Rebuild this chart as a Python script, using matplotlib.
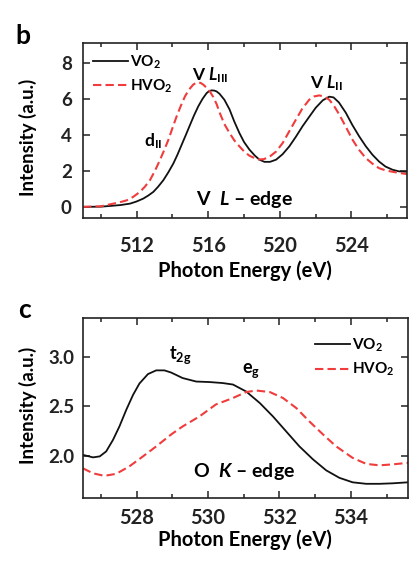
import matplotlib
matplotlib.use("Agg")
import matplotlib.pyplot as plt
from matplotlib.ticker import MultipleLocator, FormatStrFormatter

plt.rcParams['font.family'] = ['Lato', 'DejaVu Sans']
plt.rcParams['font.weight'] = 'bold'
plt.rcParams['mathtext.fontset'] = 'custom'
plt.rcParams['mathtext.rm'] = 'Lato:bold'
plt.rcParams['mathtext.it'] = 'Lato:bold:italic'
plt.rcParams['mathtext.bf'] = 'Lato:bold'

# ---- Panel b: V L-edge ----
l_vo2_x = [509.0, 510.0, 510.51, 511.1, 511.63, 512.0, 512.37, 512.65, 512.93, 513.2, 513.49,
           513.77, 514.05, 514.28, 514.51, 514.75, 514.98, 515.2, 515.44, 515.68, 515.91,
           516.05, 516.19, 516.33, 516.47, 516.63, 516.9, 517.19, 517.45, 517.74, 518.0,
           518.3, 518.6, 518.86, 519.14, 519.45, 519.79, 520.15, 520.53, 520.9, 521.27,
           521.64, 522.0, 522.4, 522.76, 523.0, 523.3, 523.69, 524.05, 524.43, 524.8,
           525.17, 525.54, 525.9, 526.3, 526.66, 527.1]
l_vo2_y = [0.0, 0.01, 0.05, 0.1, 0.18, 0.3, 0.46, 0.63, 0.83, 1.12, 1.48,
           1.92, 2.41, 2.9, 3.44, 4.0, 4.55, 5.07, 5.58, 6.0, 6.32,
           6.43, 6.47, 6.46, 6.41, 6.28, 5.95, 5.41, 4.75, 4.1, 3.6,
           3.18, 2.85, 2.62, 2.5, 2.5, 2.62, 2.92, 3.36, 3.9, 4.48,
           5.0, 5.5, 5.92, 6.12, 6.08, 5.8, 5.22, 4.55, 3.92, 3.37,
           2.9, 2.52, 2.24, 2.06, 1.97, 1.95]
l_hvo2_x = [509.0, 510.0, 510.51, 511.0, 511.44, 511.8, 512.18, 512.46, 512.74, 513.02, 513.3,
            513.55, 513.77, 514.0, 514.23, 514.47, 514.7, 514.93, 515.16, 515.3, 515.44,
            515.58, 515.72, 515.9, 516.09, 516.28, 516.47, 516.63, 516.9, 517.19, 517.45,
            517.74, 518.0, 518.3, 518.77, 519.1, 519.42, 519.8, 520.16, 520.5, 520.9,
            521.25, 521.64, 521.9, 522.2, 522.5, 522.76, 523.0, 523.32, 523.7, 524.06,
            524.4, 524.8, 525.17, 525.54, 525.9, 526.29, 526.7, 527.1]
l_hvo2_y = [0.0, 0.03, 0.14, 0.24, 0.36, 0.55, 0.83, 1.12, 1.48, 2.0, 2.6,
            3.18, 3.72, 4.38, 5.02, 5.62, 6.14, 6.52, 6.79, 6.88, 6.92,
            6.88, 6.79, 6.62, 6.41, 6.1, 5.7, 5.25, 4.6, 4.1, 3.7,
            3.36, 3.08, 2.84, 2.63, 2.65, 2.78, 3.08, 3.55, 4.15, 4.85,
            5.45, 5.95, 6.13, 6.19, 6.12, 5.95, 5.65, 5.13, 4.42, 3.73,
            3.2, 2.71, 2.4, 2.15, 2.03, 1.95, 1.88, 1.82]

# ---- Panel c: O K-edge ----
k_vo2_x = [526.5, 526.78, 526.97, 527.15, 527.34, 527.52, 527.71, 527.9, 528.08, 528.32, 528.55,
           528.78, 528.97, 529.29, 529.67, 530.04, 530.41, 530.7, 531.07, 531.45, 531.82,
           532.19, 532.56, 532.94, 533.31, 533.68, 534.05, 534.43, 534.8, 535.17, 535.6]
k_vo2_y = [2.015, 1.99, 2.0, 2.05, 2.165, 2.30, 2.465, 2.615, 2.73, 2.825, 2.862,
           2.862, 2.84, 2.785, 2.75, 2.745, 2.735, 2.72, 2.65, 2.535, 2.40,
           2.25, 2.10, 1.97, 1.86, 1.785, 1.74, 1.725, 1.725, 1.73, 1.74]
k_hvo2_x = [526.5, 526.78, 527.1, 527.43, 527.8, 528.18, 528.55, 528.97, 529.29, 529.76, 530.22,
            530.7, 531.07, 531.35, 531.73, 532.1, 532.47, 532.84, 533.22, 533.59, 534.05,
            534.43, 534.8, 535.17, 535.6]
k_hvo2_y = [1.88, 1.83, 1.805, 1.825, 1.90, 2.0, 2.10, 2.22, 2.30, 2.40, 2.52,
            2.585, 2.645, 2.66, 2.645, 2.585, 2.485, 2.35, 2.22, 2.10, 1.985,
            1.925, 1.91, 1.92, 1.935]

series_labels = ['VO$_2$', 'HVO$_2$']
red = '#f03c3c'

fig = plt.figure(figsize=(4.09, 5.67), dpi=100)
ax1 = fig.add_axes([0.2029, 0.6155, 0.792, 0.3086])
ax2 = fig.add_axes([0.2029, 0.1212, 0.7946, 0.3185])

for ax in (ax1, ax2):
    for s in ax.spines.values():
        s.set_linewidth(1.2)
        s.set_color('#222222')
    ax.tick_params(which='both', direction='in', top=True, right=True, width=1.1, colors='#222222')
    ax.tick_params(which='major', length=5)
    ax.tick_params(which='minor', length=3)

# Panel b
ax1.plot(l_vo2_x, l_vo2_y, color='#111111', lw=1.3, label=series_labels[0])
ax1.plot(l_hvo2_x, l_hvo2_y, color=red, lw=1.5, dashes=(4, 2), label=series_labels[1])
ax1.set_xlim(509, 527.1)
ax1.set_ylim(-0.62, 9.1)
ax1.xaxis.set_major_locator(MultipleLocator(4))
ax1.xaxis.set_minor_locator(MultipleLocator(2))
ax1.yaxis.set_major_locator(MultipleLocator(2))
ax1.tick_params(axis='x', which='major', labelsize=14.5, pad=13)
ax1.tick_params(axis='y', which='major', labelsize=13.5, pad=8)
ax1.legend(loc='upper left', bbox_to_anchor=(0.031, 0.94), frameon=False, fontsize=11,
           handlelength=2.3, handletextpad=0.15, borderpad=0, borderaxespad=0, labelspacing=0.45)
ax1.text(516.1, 7.3, 'V $L_{\\mathrm{III}}$', fontsize=12.5, ha='center', va='center')
ax1.text(522.6, 6.85, 'V $L_{\\mathrm{II}}$', fontsize=12.5, ha='center', va='center')
ax1.text(512.9, 3.66, 'd$_{\\mathrm{II}}$', fontsize=12.5, ha='center', va='center')
ax1.text(518.0, 0.42, 'V  $L$ – edge', fontsize=14, ha='center', va='center')

# Panel c
ax2.plot(k_vo2_x, k_vo2_y, color='#111111', lw=1.3, label=series_labels[0])
ax2.plot(k_hvo2_x, k_hvo2_y, color=red, lw=1.5, dashes=(4, 2), label=series_labels[1])
ax2.set_xlim(526.5, 535.6)
ax2.set_ylim(1.58, 3.39)
ax2.xaxis.set_major_locator(MultipleLocator(2))
ax2.xaxis.set_minor_locator(MultipleLocator(1))
ax2.yaxis.set_major_locator(MultipleLocator(0.5))
ax2.yaxis.set_major_formatter(FormatStrFormatter('%.1f'))
ax2.tick_params(axis='x', which='major', labelsize=14.5, pad=7)
ax2.tick_params(axis='y', which='major', labelsize=13.5, pad=6)
ax2.legend(loc='upper left', bbox_to_anchor=(0.714, 0.895), frameon=False, fontsize=11,
           handlelength=2.3, handletextpad=0.15, borderpad=0, borderaxespad=0, labelspacing=0.45)
ax2.text(529.21, 3.015, 't$_{\\mathrm{2g}}$', fontsize=13, ha='center', va='center')
ax2.text(531.22, 2.865, 'e$_{\\mathrm{g}}$', fontsize=13, ha='center', va='center')
ax2.text(531.0, 1.845, 'O  $K$ – edge', fontsize=14, ha='center', va='center')

# Axis labels
fig.text(28 / 409, 1 - 137.5 / 567, 'Intensity (a.u.)', rotation=90, ha='center', va='center', fontsize=13.5)
fig.text(28 / 409, 1 - 405 / 567, 'Intensity (a.u.)', rotation=90, ha='center', va='center', fontsize=13.5)
fig.text(245 / 409, 1 - 271 / 567, 'Photon Energy (eV)', ha='center', va='center', fontsize=14.5)
fig.text(245 / 409, 1 - 540 / 567, 'Photon Energy (eV)', ha='center', va='center', fontsize=14.5)

fig.text(23 / 409, 1 - 36 / 567, 'b', ha='center', va='center', fontsize=19)
fig.text(24.5 / 409, 1 - 310 / 567, 'c', ha='center', va='center', fontsize=19)

fig.savefig('out.png', dpi=100)
